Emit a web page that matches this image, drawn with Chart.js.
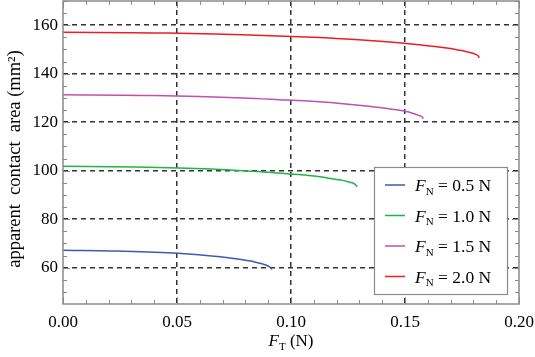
<!DOCTYPE html>
<html><head><meta charset="utf-8">
<script src="https://cdn.jsdelivr.net/npm/chart.js@4/dist/chart.umd.min.js"></script>
<style>html,body{margin:0;padding:0;background:#fff}#wrap{width:535px;height:357px}</style>
</head><body><div id="wrap"><canvas id="c" width="535" height="357"></canvas></div>
<script>
// Data (F_T in N, area in mm^2)
const x05 = [0, 0.023, 0.046, 0.0549, 0.064, 0.0732, 0.078, 0.0824, 0.085, 0.0869, 0.089, 0.0906, 0.0913, 0.0915];
const y05 = [67.2, 66.9, 66.1, 65.6, 64.9, 64.0, 63.4, 62.7, 62.1, 61.7, 61.1, 60.3, 59.7, 59.2];
const x10 = [0, 0.032, 0.065, 0.0774, 0.090, 0.1032, 0.110, 0.1161, 0.120, 0.1226, 0.125, 0.128, 0.1287, 0.129];
const y10 = [101.8, 101.5, 100.7, 100.1, 99.4, 98.4, 97.8, 97.0, 96.4, 96.0, 95.4, 94.5, 93.8, 93.3];
const x15 = [0, 0.040, 0.079, 0.0948, 0.111, 0.1264, 0.134, 0.1422, 0.147, 0.150, 0.153, 0.156, 0.1577, 0.158];
const y15 = [131.3, 131.0, 130.0, 129.3, 128.5, 127.3, 126.6, 125.7, 125.0, 124.5, 123.8, 122.8, 122.0, 121.4];
const x20 = [0, 0.046, 0.091, 0.1095, 0.128, 0.146, 0.155, 0.164, 0.170, 0.1734, 0.177, 0.181, 0.1822, 0.1825];
const y20 = [157.1, 156.8, 155.7, 155.0, 154.1, 152.9, 152.1, 151.1, 150.4, 149.8, 149.1, 148.0, 147.2, 146.5];
const seriesLabels = ["0.5", "1.0", "1.5", "2.0"];
const colors = ["rgb(62,90,172)", "rgb(30,180,70)", "rgb(190,80,180)", "rgb(238,28,36)"];
const xTicks = [0, 0.05, 0.10, 0.15, 0.20];
const yTicks = [60, 80, 100, 120, 140, 160];
const xMinorStep = 0.01, yMinorStep = 5;
const yTitle = "apparent  contact  area (mm\u00B2)";

const FONT = "'Liberation Serif','DejaVu Serif',serif";
const toPts = (xs, ys) => xs.map((v, i) => ({x: v, y: ys[i]}));
const xsAll = [x05, x10, x15, x20], ysAll = [y05, y10, y15, y20];

const decor = {
  id: 'decor',
  afterDraw(chart) {
    const ctx = chart.ctx, a = chart.chartArea;
    const xs = chart.scales.x, ys = chart.scales.y;
    ctx.save();
    ctx.strokeStyle = '#8a8a8a'; ctx.lineWidth = 1.5; ctx.setLineDash([]);
    ctx.strokeRect(a.left, a.top, a.right - a.left, a.bottom - a.top);
    ctx.strokeStyle = '#8a8a8a'; ctx.lineWidth = 1;
    ctx.beginPath();
    for (let v = xs.min; v <= xs.max + 1e-9; v += xMinorStep) {
      const p = Math.round(xs.getPixelForValue(v)) + 0.5;
      const major = xTicks.some(t => Math.abs(t - v) < 1e-6);
      const L = major ? 7 : 4;
      ctx.moveTo(p, a.bottom); ctx.lineTo(p, a.bottom - L);
      ctx.moveTo(p, a.top); ctx.lineTo(p, a.top + L);
    }
    for (let v = 50; v <= ys.max + 1e-9; v += yMinorStep) {
      const p = Math.round(ys.getPixelForValue(v)) + 0.5;
      const major = yTicks.some(t => Math.abs(t - v) < 1e-6);
      const L = major ? 7 : 4;
      ctx.moveTo(a.left, p); ctx.lineTo(a.left + L, p);
      ctx.moveTo(a.right, p); ctx.lineTo(a.right - L, p);
    }
    ctx.stroke();
    ctx.fillStyle = '#000';
    ctx.font = '18.5px ' + FONT;
    ctx.textAlign = 'center'; ctx.textBaseline = 'middle';
    ctx.save();
    ctx.translate(15, 159);
    ctx.rotate(-Math.PI / 2);
    ctx.fillText(yTitle, 0, 0);
    ctx.restore();
    const drawFN = (x, y, sub, rest, size) => {
      ctx.textAlign = 'left'; ctx.textBaseline = 'alphabetic';
      ctx.font = 'italic ' + size + 'px ' + FONT;
      ctx.fillText('F', x, y);
      let w = ctx.measureText('F').width;
      ctx.font = Math.round(size * 0.62) + 'px ' + FONT;
      ctx.fillText(sub, x + w, y + size * 0.22);
      w += ctx.measureText(sub).width;
      ctx.font = size + 'px ' + FONT;
      ctx.fillText(rest, x + w, y);
      w += ctx.measureText(rest).width;
      return w;
    };
    ctx.font = 'italic 17px ' + FONT; let tw = ctx.measureText('F').width;
    ctx.font = '11px ' + FONT; tw += ctx.measureText('T').width;
    ctx.font = '17px ' + FONT; tw += ctx.measureText(' (N)').width;
    const cx = (a.left + a.right) / 2;
    drawFN(cx - tw / 2, 346, 'T', ' (N)', 17);
    const lx = 374, ly = 167, lw = 133, lh = 127;
    ctx.fillStyle = '#fff';
    ctx.fillRect(lx, ly, lw, lh);
    ctx.strokeStyle = '#8a8a8a'; ctx.lineWidth = 1.2;
    ctx.strokeRect(lx + 0.5, ly + 0.5, lw, lh);
    const rowY = [185, 215.5, 246, 276.5];
    seriesLabels.forEach((s, i) => {
      ctx.strokeStyle = colors[i]; ctx.lineWidth = 1.5;
      ctx.beginPath(); ctx.moveTo(385, rowY[i]); ctx.lineTo(405, rowY[i]); ctx.stroke();
      ctx.fillStyle = '#000';
      drawFN(415, rowY[i] + 6, 'N', ' = ' + s + ' N', 17.5);
    });
    ctx.restore();
  }
};

new Chart(document.getElementById('c'), {
  type: 'scatter',
  data: {
    datasets: xsAll.map((xv, i) => ({
      label: 'F_N = ' + seriesLabels[i] + ' N',
      data: toPts(xv, ysAll[i]),
      showLine: true,
      borderColor: colors[i],
      backgroundColor: colors[i],
      borderWidth: 1.5,
      pointRadius: 0,
      tension: 0.4,
      cubicInterpolationMode: 'monotone'
    }))
  },
  options: {
    responsive: false,
    animation: false,
    layout: {padding: {left: 0, right: 16, top: 1, bottom: 0}},
    plugins: {legend: {display: false}, tooltip: {enabled: false}},
    scales: {
      x: {
        type: 'linear', min: 0, max: 0.2,
        afterBuildTicks: s => { s.ticks = xTicks.map(v => ({value: v})); },
        afterFit: s => { s.height = 53; s.paddingLeft = 0; s.paddingRight = 0; },
        grid: {
          drawTicks: false,
          color: c => (c.tick && (c.tick.value === 0 || Math.abs(c.tick.value - 0.2) < 1e-9)) ? 'rgba(0,0,0,0)' : '#333',
          lineWidth: 1.5
        },
        border: {display: false, dash: [5, 4]},
        ticks: {
          color: '#000', padding: 8, maxRotation: 0,
          font: {family: FONT, size: 17},
          callback: v => v.toFixed(2)
        }
      },
      y: {
        type: 'linear', min: 45, max: 170,
        afterBuildTicks: s => { s.ticks = yTicks.map(v => ({value: v})); },
        afterFit: s => { s.width = 63; s.paddingTop = 0; s.paddingBottom = 0; },
        grid: {drawTicks: false, color: '#333', lineWidth: 1.5},
        border: {display: false, dash: [5, 4]},
        ticks: {
          color: '#000', padding: 5,
          font: {family: FONT, size: 17},
          callback: v => String(v)
        }
      }
    }
  },
  plugins: [decor]
});
</script></body></html>
